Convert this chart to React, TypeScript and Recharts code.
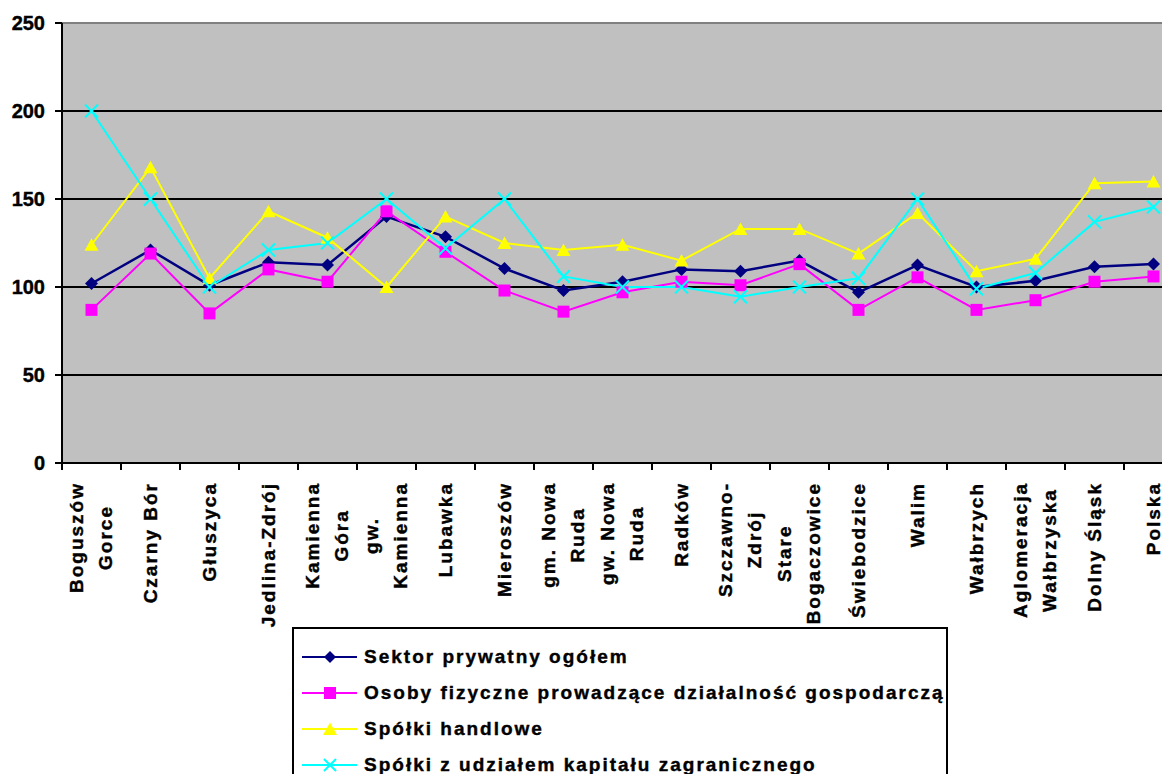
import React from 'react';
import { LineChart, Line, XAxis, YAxis, CartesianGrid, ReferenceLine } from 'recharts';

const categories = [
  'Boguszów Gorce', 'Czarny Bór', 'Głuszyca', 'Jedlina-Zdrój', 'Kamienna Góra', 'gw. Kamienna',
  'Lubawka', 'Mieroszów', 'gm. Nowa Ruda', 'gw. Nowa Ruda', 'Radków', 'Szczawno-Zdrój',
  'Stare Bogaczowice', 'Świebodzice', 'Walim', 'Wałbrzych', 'Aglomeracja Wałbrzyska', 'Dolny Śląsk', 'Polska',
];

const tickLabelLines = [
  ['Boguszów', 'Gorce'], ['Czarny Bór'], ['Głuszyca'], ['Jedlina-Zdrój'], ['Kamienna', 'Góra'], ['gw.', 'Kamienna'],
  ['Lubawka'], ['Mieroszów'], ['gm. Nowa', 'Ruda'], ['gw. Nowa', 'Ruda'], ['Radków'], ['Szczawno-', 'Zdrój'],
  ['Stare', 'Bogaczowice'], ['Świebodzice'], ['Walim'], ['Wałbrzych'], ['Aglomeracja', 'Wałbrzyska'], ['Dolny Śląsk'], ['Polska'],
];

const sektorPrywatny = [102, 121, 101, 114, 112.5, 140, 128.5, 110.5, 98, 103, 110, 109, 115, 97, 112.5, 100, 103.5, 111.5, 113];
const osobyFizyczne = [87, 119, 85, 110, 103, 143, 120, 98, 86, 97, 103, 101, 113, 87, 105.5, 87, 92.5, 103, 106];
const spolkiHandlowe = [124, 168, 105, 143, 128, 100, 140, 125, 121, 124, 115, 133, 133, 119, 142, 109, 116, 159, 160];
const spolkiZagraniczne = [200, 150, 100, 121, 125, 150, 122, 150, 106, 100, 100, 94.5, 100, 105, 150, 99, 108, 137, 145.5];

const seriesNames = [
  'Sektor prywatny ogółem',
  'Osoby fizyczne prowadzące działalność gospodarczą',
  'Spółki handlowe',
  'Spółki z udziałem kapitału zagranicznego',
];

const yTicks = [0, 50, 100, 150, 200, 250];
const gridValues = [50, 100, 150, 200];

const data = categories.map((name, i) => ({
  name,
  s1: sektorPrywatny[i],
  s2: osobyFizyczne[i],
  s3: spolkiHandlowe[i],
  s4: spolkiZagraniczne[i],
}));

const FONT = "'Liberation Sans', Arial, Helvetica, sans-serif";
const CHART_W = 1200;
const CHART_H = 782;
const PLOT_LEFT = 62;
const PLOT_RIGHT = 1183;
const PLOT_TOP = 23;
const PLOT_BOTTOM = 463;
const BAND = (PLOT_RIGHT - PLOT_LEFT) / categories.length;
const LABEL_SIZE = 19;
const LABEL_SPACING = 2;

const NAVY = '#000080';
const MAGENTA = '#FF00FF';
const YELLOW = '#FFFF00';
const CYAN = '#00FFFF';

let measureCtx: CanvasRenderingContext2D | null = null;
function measure(text: string): number {
  if (!measureCtx) {
    const c = document.createElement('canvas');
    measureCtx = c.getContext('2d');
  }
  if (!measureCtx) return text.length * LABEL_SIZE * 0.6;
  measureCtx.font = `bold ${LABEL_SIZE}px ${FONT}`;
  return measureCtx.measureText(text).width + LABEL_SPACING * text.length;
}

const XTick = (props: any) => {
  const { x, y, payload } = props;
  let idx = props.index ?? payload?.index;
  if (idx == null) idx = categories.indexOf(payload.value);
  const lines = tickLabelLines[idx] ?? [String(payload.value)];
  const maxLen = Math.max(...lines.map((l) => measure(l)));
  const midY = y + 19 + maxLen / 2;
  return (
    <g>
      <line x1={x - BAND / 2} y1={y} x2={x - BAND / 2} y2={y + 7} stroke="#000" strokeWidth={2} />
      {idx === categories.length - 1 && (
        <line x1={x + BAND / 2} y1={y} x2={x + BAND / 2} y2={y + 7} stroke="#000" strokeWidth={2} />
      )}
      {lines.map((l, i) => {
        const lx = x + (i - (lines.length - 1) / 2) * 29;
        return (
          <text
            key={i}
            x={lx}
            y={midY}
            transform={`rotate(-90 ${lx} ${midY})`}
            textAnchor="middle"
            dominantBaseline="central"
            fontSize={LABEL_SIZE}
            fontWeight="bold"
            fontFamily={FONT}
            letterSpacing={LABEL_SPACING}
            fill="#000"
            stroke="#000"
            strokeWidth={0.4}
          >
            {l}
          </text>
        );
      })}
    </g>
  );
};

const diamondPath = (cx: number, cy: number, r: number) => `M${cx},${cy - r}L${cx + r},${cy}L${cx},${cy + r}L${cx - r},${cy}Z`;

const DiamondDot = (p: any) => {
  const { cx, cy, index } = p;
  if (cx == null || cy == null) return <g key={`d-${index}`} />;
  return <path key={`d-${index}`} d={diamondPath(cx, cy, 6.5)} fill={NAVY} />;
};
const SquareDot = (p: any) => {
  const { cx, cy, index } = p;
  if (cx == null || cy == null) return <g key={`s-${index}`} />;
  return <rect key={`s-${index}`} x={cx - 6} y={cy - 6} width={12} height={12} fill={MAGENTA} />;
};
const TriangleDot = (p: any) => {
  const { cx, cy, index } = p;
  if (cx == null || cy == null) return <g key={`t-${index}`} />;
  return <path key={`t-${index}`} d={`M${cx},${cy - 6.5}L${cx + 7},${cy + 6}L${cx - 7},${cy + 6}Z`} fill={YELLOW} />;
};
const CrossDot = (p: any) => {
  const { cx, cy, index } = p;
  if (cx == null || cy == null) return <g key={`x-${index}`} />;
  const r = 6.5;
  return (
    <path
      key={`x-${index}`}
      d={`M${cx - r},${cy - r}L${cx + r},${cy + r}M${cx + r},${cy - r}L${cx - r},${cy + r}`}
      stroke={CYAN}
      strokeWidth={2}
      fill="none"
    />
  );
};

const legendIcons = [
  (cx: number, cy: number) => <path d={diamondPath(cx, cy, 6)} fill={NAVY} />,
  (cx: number, cy: number) => <rect x={cx - 6} y={cy - 6} width={12} height={12} fill={MAGENTA} />,
  (cx: number, cy: number) => <path d={`M${cx},${cy - 6.5}L${cx + 7},${cy + 6}L${cx - 7},${cy + 6}Z`} fill={YELLOW} />,
  (cx: number, cy: number) => (
    <path d={`M${cx - 6},${cy - 6}L${cx + 6},${cy + 6}M${cx + 6},${cy - 6}L${cx - 6},${cy + 6}`} stroke={CYAN} strokeWidth={2} />
  ),
];
const legendColors = [NAVY, MAGENTA, YELLOW, CYAN];

const Legend = () => (
  <div
    style={{
      position: 'absolute',
      left: 292,
      top: 627,
      width: 656,
      height: 160,
      border: '2px solid #000',
      background: '#fff',
      boxSizing: 'border-box',
    }}
  >
    {seriesNames.map((name, i) => (
      <div
        key={name}
        style={{
          position: 'absolute',
          left: 0,
          top: 10 + i * 36,
          height: 36,
          display: 'flex',
          alignItems: 'center',
          whiteSpace: 'nowrap',
        }}
      >
        <svg width={70} height={36} style={{ display: 'block' }}>
          <line x1={8} y1={18} x2={63} y2={18} stroke={legendColors[i]} strokeWidth={2} />
          {legendIcons[i](36, 18)}
        </svg>
        <span
          style={{
            fontFamily: FONT,
            fontWeight: 'bold',
            fontSize: LABEL_SIZE,
            letterSpacing: LABEL_SPACING,
            color: '#000',
            lineHeight: '36px',
            WebkitTextStroke: '0.4px #000',
          }}
        >
          {name}
        </span>
      </div>
    ))}
  </div>
);

export default function App() {
  return (
    <div
      style={{
        position: 'relative',
        margin: -8,
        width: 1170,
        height: 782,
        overflow: 'hidden',
        background: '#fff',
      }}
    >
      <LineChart
        width={CHART_W}
        height={CHART_H}
        data={data}
        margin={{ top: PLOT_TOP, right: CHART_W - PLOT_RIGHT, bottom: 0, left: 0 }}
      >
        <CartesianGrid
          vertical={false}
          horizontalValues={gridValues}
          stroke="#000"
          strokeWidth={2}
          fill="#C0C0C0"
          fillOpacity={1}
        />
        <ReferenceLine y={250} stroke="#808080" strokeWidth={2} ifOverflow="extendDomain" />
        <XAxis
          dataKey="name"
          scale="band"
          interval={0}
          height={CHART_H - PLOT_BOTTOM}
          axisLine={{ stroke: '#000', strokeWidth: 2 }}
          tickLine={false}
          tickSize={0}
          tickMargin={0}
          tick={<XTick />}
        />
        <YAxis
          width={PLOT_LEFT}
          domain={[0, 250]}
          ticks={yTicks}
          interval={0}
          allowDataOverflow
          axisLine={{ stroke: '#000', strokeWidth: 2 }}
          tickLine={{ stroke: '#000', strokeWidth: 2 }}
          tickSize={7}
          tickMargin={10}
          tick={{ fill: '#000', stroke: '#000', strokeWidth: 0.4, fontSize: 20, fontWeight: 'bold', fontFamily: FONT }}
        />
        <Line dataKey="s1" name={seriesNames[0]} stroke={NAVY} strokeWidth={2.5} dot={DiamondDot} activeDot={false} isAnimationActive={false} />
        <Line dataKey="s2" name={seriesNames[1]} stroke={MAGENTA} strokeWidth={2} dot={SquareDot} activeDot={false} isAnimationActive={false} />
        <Line dataKey="s3" name={seriesNames[2]} stroke={YELLOW} strokeWidth={2} dot={TriangleDot} activeDot={false} isAnimationActive={false} />
        <Line dataKey="s4" name={seriesNames[3]} stroke={CYAN} strokeWidth={2} dot={CrossDot} activeDot={false} isAnimationActive={false} />
      </LineChart>
      <Legend />
    </div>
  );
}
